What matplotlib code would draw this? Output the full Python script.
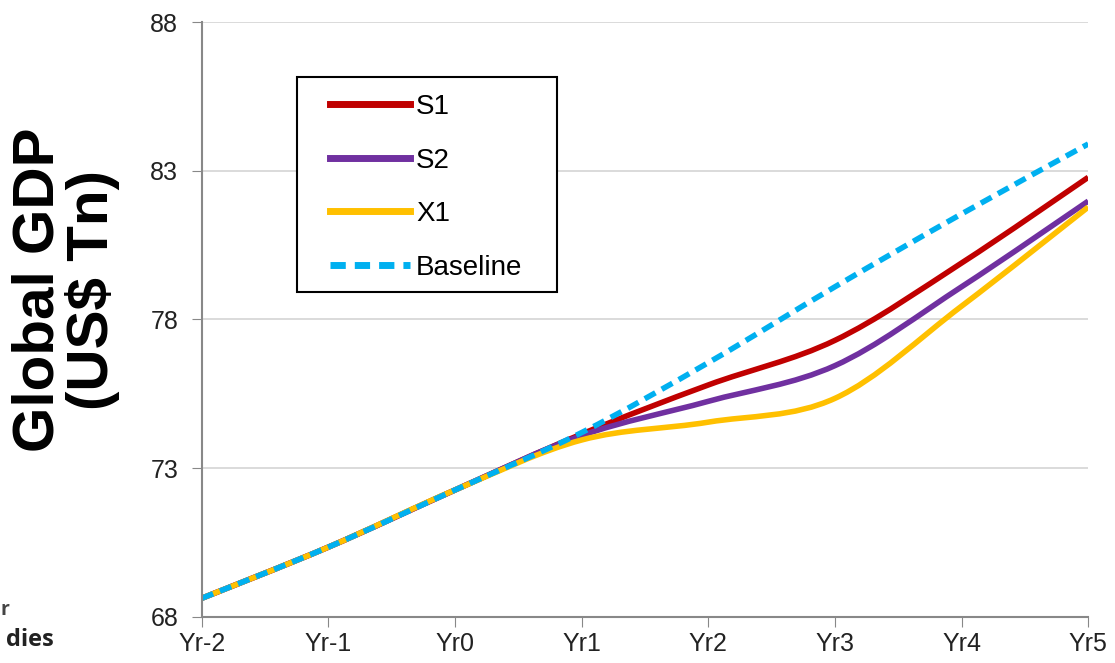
import matplotlib
matplotlib.use("Agg")
import matplotlib.pyplot as plt
from matplotlib.path import Path
from matplotlib.patches import PathPatch, Rectangle
from matplotlib.lines import Line2D
import numpy as np

plt.rcParams['font.family'] = ['Liberation Sans', 'DejaVu Sans']

years = ["Yr-2", "Yr-1", "Yr0", "Yr1", "Yr2", "Yr3", "Yr4", "Yr5"]
s1 = [68.63, 70.35, 72.27, 74.15, 75.8, 77.3, 79.9, 82.78]
s2 = [68.63, 70.35, 72.27, 74.1, 75.25, 76.45, 79.1, 81.98]
x1 = [68.63, 70.35, 72.27, 73.95, 74.55, 75.35, 78.45, 81.78]
baseline = [68.63, 70.35, 72.27, 74.2, 76.55, 79.1, 81.55, 83.9]

series = [("S1", s1, "#C00000", "-"),
          ("S2", s2, "#7030A0", "-"),
          ("X1", x1, "#FFC000", "-"),
          ("Baseline", baseline, "#00B0F0", (0, (2.2, 1.3)))]


def smooth_path(xs, ys):
    # Excel-like smoothed line drawn as cubic Bezier segments
    pts = np.column_stack([xs, ys])
    n = len(pts)
    verts = [pts[0]]
    codes = [Path.MOVETO]
    for i in range(n - 1):
        p0 = pts[max(i - 1, 0)]
        p1 = pts[i]
        p2 = pts[i + 1]
        p3 = pts[min(i + 2, n - 1)]
        verts += [p1 + (p2 - p0) / 6, p2 - (p3 - p1) / 6, p2]
        codes += [Path.CURVE4] * 3
    return Path(verts, codes)


fig = plt.figure(figsize=(11.15, 6.63), dpi=100)
ax = fig.add_axes([0.181, 0.0694, 0.795, 0.8974])

xs = np.arange(len(years))
handles = []
for name, vals, color, ls in series:
    patch = PathPatch(smooth_path(xs, vals), facecolor="none", edgecolor=color,
                      lw=4, linestyle=ls, capstyle="butt")
    ax.add_patch(patch)
    handles.append(Line2D([], [], color=color, lw=5, linestyle=ls, label=name))

ax.set_xlim(0, len(years) - 1)
ax.set_ylim(68, 88)
ax.set_yticks([68, 73, 78, 83, 88])
ax.set_xticks(xs)
ax.set_xticklabels(years)
ax.tick_params(axis="both", labelsize=18, length=7, color="#888888", labelcolor="#222222")
ax.tick_params(axis="y", pad=10)
ax.tick_params(axis="x", pad=4)
ax.yaxis.grid(True, color="#d4d4d4", lw=1.2)
ax.set_axisbelow(True)
for side in ["top", "right"]:
    ax.spines[side].set_visible(False)
for side in ["left", "bottom"]:
    ax.spines[side].set_color("#888888")
    ax.spines[side].set_linewidth(1.5)

ax.set_ylabel("Global GDP\n(US$ Tn)", fontsize=42, fontweight="bold",
              linespacing=1.0)
ax.yaxis.set_label_coords(-0.092, 0.55)

# legend box drawn separately so the padding matches the original
ax.add_patch(Rectangle((0.1072, 0.5462), 0.2935, 0.3614, transform=ax.transAxes,
                       facecolor="white", edgecolor="black", lw=1.5, zorder=5))
leg = ax.legend(handles=handles, loc="upper left", bbox_to_anchor=(0.1445, 0.879),
                fontsize=20, frameon=False, handlelength=2.9, handletextpad=0.2,
                labelspacing=0.99, borderpad=0, borderaxespad=0)
leg.set_zorder(6)

fig.text(0.005, 0.025, "dies", fontsize=17, fontweight="bold",
         family=["Open Sans", "DejaVu Sans"], color="#222222")
fig.text(0.0, 1 - 615 / 663, "r", fontsize=14, fontweight="bold",
         family=["Open Sans", "DejaVu Sans"], color="#444444")

fig.savefig("out.png", dpi=100)
